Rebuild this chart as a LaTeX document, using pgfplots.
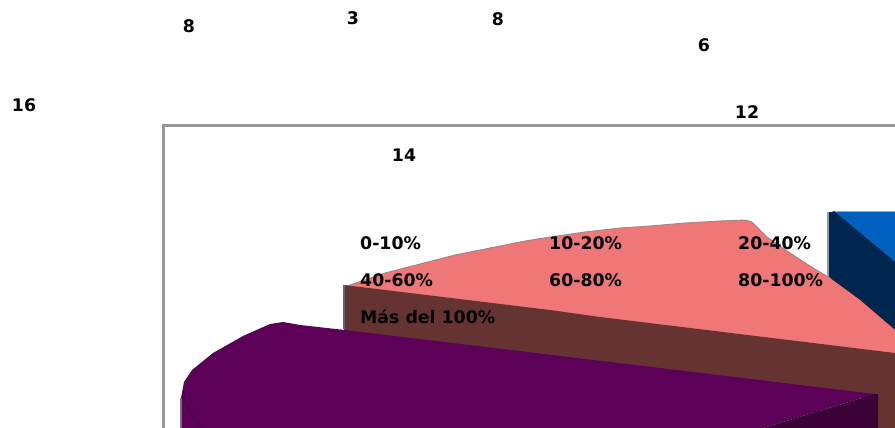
\documentclass[border=0pt]{standalone}
\usepackage{pgfplots}
\pgfplotsset{compat=1.18}
\usepackage{fontspec}
\setmainfont{DejaVu Sans}[BoldFont={DejaVu Sans Bold}]
\definecolor{pinktop}{HTML}{EF7777}
\definecolor{brownwall}{HTML}{663333}
\definecolor{purpletop}{HTML}{5C0058}
\definecolor{purplewall}{HTML}{3A0036}
\definecolor{bluetop}{HTML}{0060BF}
\definecolor{bluewall}{HTML}{00264F}
\definecolor{framegray}{HTML}{969696}
\tikzset{lbl/.style={font=\fontsize{17.4}{19}\selectfont\bfseries, text=black, inner sep=0pt}}
\begin{document}
\begin{tikzpicture}
\begin{axis}[
  name=chart,
  scale only axis, width=895bp, height=428bp,
  xmin=0, xmax=895, ymin=0, ymax=428, y dir=reverse,
  hide axis, clip=true,
]
% plot frame
\addplot[framegray, line width=3bp] coordinates {(163,428) (163,125) (895,125)};
% blue slice: top face and outer wall
\addplot[fill=bluetop, draw=none] coordinates {(832,211) (895,211) (895,264)} --cycle;
\addplot[fill=bluewall, draw=none] coordinates {(829,212) (835,212) (895,262) (895,330) (829,279)} --cycle;
\addplot[color=bluewall!45!white, line width=2bp] coordinates {(828,212) (828,278)};
\addplot[color=gray!70, line width=1bp] coordinates {(835,211) (895,211)};
% pink slice: top face
\addplot[fill=pinktop, draw=none] coordinates {
  (347,286) (385,273) (420,264) (455,255) (490,248) (525,241) (550,237)
  (585,232) (620,228) (650,226) (685,223) (720,221) (745,220) (752,222)
  (767,237) (790,253) (813,268) (830,278) (860,300) (895,330) (895,360) (347,290)} --cycle;
\addplot[color=brownwall!60!white, line width=0.9bp] coordinates {
  (347,286) (385,273) (420,264) (455,255) (490,248) (525,241) (550,237)
  (585,232) (620,228) (650,226) (685,223) (720,221) (745,220) (752,222)
  (767,237) (790,253) (813,268) (830,278)};
% brown wall below the pink slice
\addplot[fill=brownwall, draw=none] coordinates {
  (344,285) (550,310) (600,317) (895,353) (895,428) (878,428) (878,400) (344,336)} --cycle;
\addplot[color=gray!80!black, line width=1.4bp] coordinates {(344,285) (344,329)};
% purple slice: top face and walls
\addplot[fill=purpletop, draw=none] coordinates {
  (345,330) (300,325) (283,322) (270,324) (243,336) (213,353) (192,370)
  (184,382) (181,398) (181,428) (763,428) (875,394)} --cycle;
\addplot[fill=purplewall, draw=none] coordinates {(875,394) (878,394) (878,428) (763,428)} --cycle;
\addplot[color=purplewall, line width=0.9bp] coordinates {(184,396) (188,410) (202,428)};
\addplot[color=purplewall!60!white, line width=1.2bp] coordinates {(181,398) (181,428)};
% slice values
\node[lbl] at (axis cs:189,26) {8};
\node[lbl] at (axis cs:353,18) {3};
\node[lbl] at (axis cs:498,19) {8};
\node[lbl] at (axis cs:704,45) {6};
\node[lbl] at (axis cs:24,105) {16};
\node[lbl] at (axis cs:404,155) {14};
\node[lbl] at (axis cs:747,112) {12};
% category labels
\node[lbl,anchor=west] at (axis cs:360,243) {0-10\%};
\node[lbl,anchor=west] at (axis cs:549,243) {10-20\%};
\node[lbl,anchor=west] at (axis cs:738,243) {20-40\%};
\node[lbl,anchor=west] at (axis cs:360,280) {40-60\%};
\node[lbl,anchor=west] at (axis cs:549,280) {60-80\%};
\node[lbl,anchor=west] at (axis cs:738,280) {80-100\%};
\node[lbl,anchor=west] at (axis cs:360,317) {Más del 100\%};
\end{axis}
% page covers the whole plotting rectangle
\path (chart.south west) rectangle (chart.north east);
\end{tikzpicture}
\end{document}
